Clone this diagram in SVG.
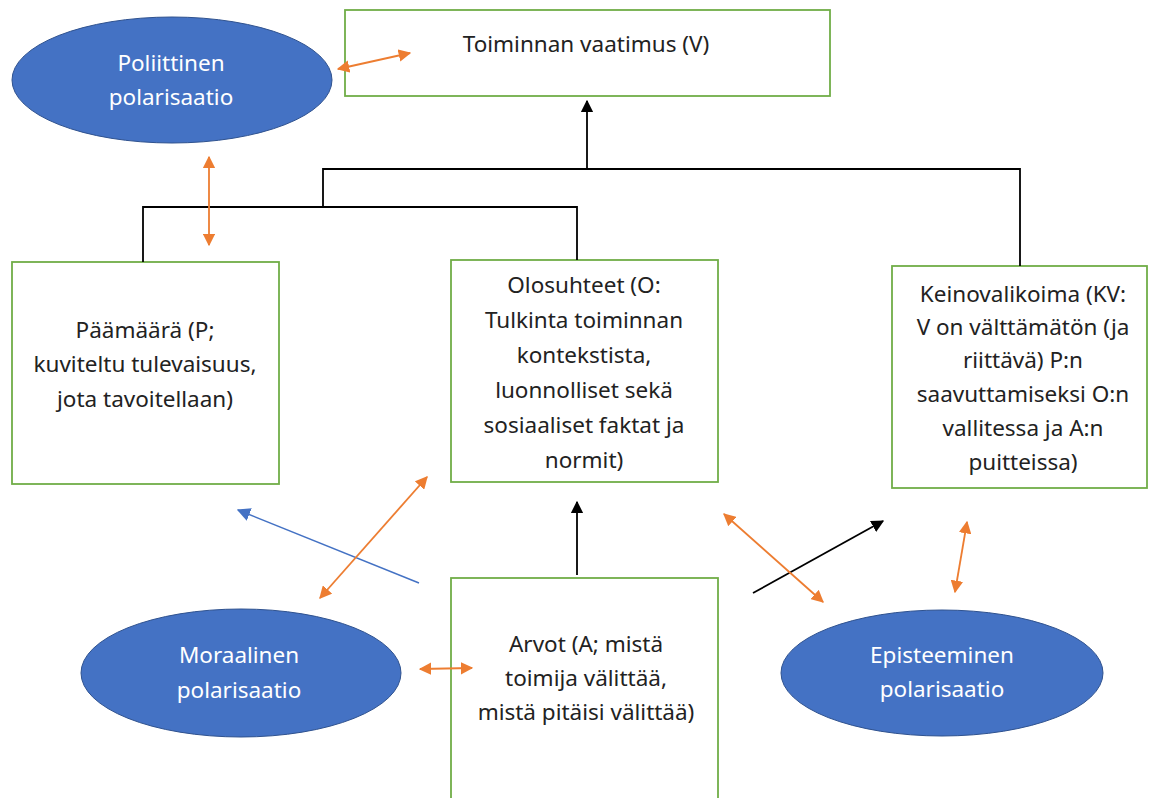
<svg xmlns="http://www.w3.org/2000/svg" width="1149" height="798" viewBox="0 0 1149 798">
<defs>
<style>
.box{fill:#fff;stroke:#70AD47;stroke-width:1.8}
.ell{fill:#4472C4;stroke:#2F528F;stroke-width:1}
.t{font-family:"Noto Sans","Open Sans",sans-serif;font-size:22.5px;fill:#222;text-anchor:middle}
.w{fill:#fff}
.blk{stroke:#000;stroke-width:1.8;fill:none}
.or{stroke:#ED7D31;stroke-width:1.8;fill:none;marker-start:url(#ao);marker-end:url(#ao)}
</style>
<marker id="ao" viewBox="0 0 10 10" refX="9" refY="5" markerWidth="7" markerHeight="7" markerUnits="strokeWidth" orient="auto-start-reverse"><path d="M0,0 L10,5 L0,10 Z" fill="#ED7D31"/></marker>
<marker id="ab" viewBox="0 0 10 10" refX="9" refY="5" markerWidth="7" markerHeight="7" markerUnits="strokeWidth" orient="auto"><path d="M0,0 L10,5 L0,10 Z" fill="#000"/></marker>
<marker id="abl" viewBox="0 0 10 10" refX="9" refY="5" markerWidth="9" markerHeight="9" markerUnits="strokeWidth" orient="auto"><path d="M0,0 L10,5 L0,10 Z" fill="#4472C4"/></marker>
</defs>
<rect width="1149" height="798" fill="#fff"/>

<g id="vaatimus">
<rect class="box" x="345" y="10" width="485" height="86"/>
<text class="t" x="586" y="52">Toiminnan vaatimus (V)</text>
</g>

<g id="poliittinen">
<ellipse class="ell" cx="172" cy="80" rx="160" ry="63"/>
<text class="t w" x="171" y="71">Poliittinen</text>
<text class="t w" x="171" y="105">polarisaatio</text>
</g>

<g id="paamaara">
<rect class="box" x="12" y="262" width="267" height="222"/>
<text class="t" x="145" y="338">Päämäärä (P;</text>
<text class="t" x="145" y="372">kuviteltu tulevaisuus,</text>
<text class="t" x="145" y="407">jota tavoitellaan)</text>
</g>

<g id="olosuhteet">
<rect class="box" x="451" y="260" width="267" height="222"/>
<text class="t" x="584" y="293">Olosuhteet (O:</text>
<text class="t" x="584" y="328">Tulkinta toiminnan</text>
<text class="t" x="584" y="363">kontekstista,</text>
<text class="t" x="584" y="398">luonnolliset sekä</text>
<text class="t" x="584" y="433">sosiaaliset faktat ja</text>
<text class="t" x="584" y="468">normit)</text>
</g>

<g id="keinovalikoima">
<rect class="box" x="892" y="266" width="255" height="222"/>
<text class="t" x="1023" y="302">Keinovalikoima (KV:</text>
<text class="t" x="1023" y="335">V on välttämätön (ja</text>
<text class="t" x="1023" y="368">riittävä) P:n</text>
<text class="t" x="1023" y="402">saavuttamiseksi O:n</text>
<text class="t" x="1023" y="436">vallitessa ja A:n</text>
<text class="t" x="1023" y="470">puitteissa)</text>
</g>

<g id="moraalinen">
<ellipse class="ell" cx="241" cy="673" rx="160" ry="64"/>
<text class="t w" x="239" y="663">Moraalinen</text>
<text class="t w" x="239" y="698">polarisaatio</text>
</g>

<g id="arvot">
<rect class="box" x="451" y="578" width="267" height="230"/>
<text class="t" x="586" y="652">Arvot (A; mistä</text>
<text class="t" x="586" y="686">toimija välittää,</text>
<text class="t" x="586" y="720">mistä pitäisi välittää)</text>
</g>

<g id="episteeminen">
<ellipse class="ell" cx="942" cy="673" rx="161" ry="63"/>
<text class="t w" x="942" y="663">Episteeminen</text>
<text class="t w" x="942" y="697">polarisaatio</text>
</g>

<g id="connectors">
<polyline class="blk" points="323,208 323,169 1020,169 1020,266"/>
<polyline class="blk" points="143,262 143,207 577,207 577,260"/>
<line class="blk" x1="587" y1="169" x2="587" y2="101" marker-end="url(#ab)"/>
<line class="blk" x1="577" y1="575" x2="577" y2="502" marker-end="url(#ab)"/>
<line class="blk" x1="753" y1="593" x2="883" y2="521" marker-end="url(#ab)"/>
<line x1="419" y1="583" x2="238" y2="510" stroke="#4472C4" stroke-width="1.5" marker-end="url(#abl)"/>
<line class="or" x1="338" y1="69" x2="410" y2="53"/>
<line class="or" x1="209" y1="157" x2="209" y2="245"/>
<line class="or" x1="427" y1="477" x2="320" y2="598"/>
<line class="or" x1="420" y1="669" x2="472" y2="668"/>
<line class="or" x1="724" y1="514" x2="823" y2="602"/>
<line class="or" x1="967" y1="522" x2="955" y2="592"/>
</g>
</svg>
